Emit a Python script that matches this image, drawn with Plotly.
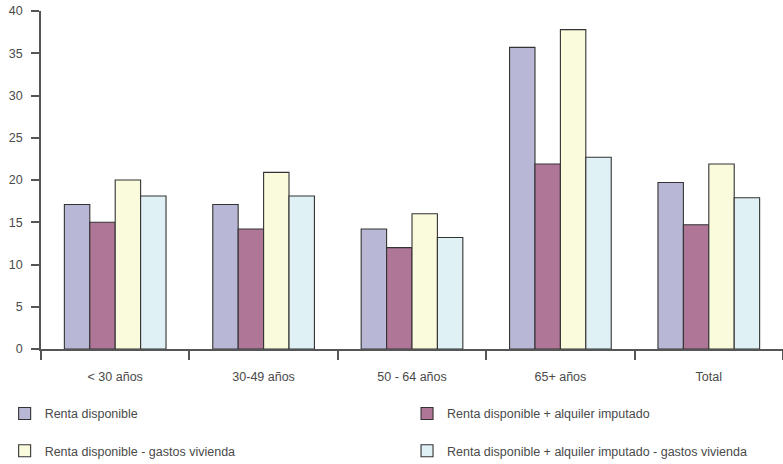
import plotly.graph_objects as go

categories = ["< 30 años", "30-49 años", "50 - 64 años", "65+ años", "Total"]
series_names = [
    "Renta disponible",
    "Renta disponible + alquiler imputado",
    "Renta disponible - gastos vivienda",
    "Renta disponible + alquiler imputado - gastos vivienda",
]
renta = [17.1, 17.1, 14.2, 35.7, 19.7]
renta_alquiler = [15.0, 14.2, 12.0, 21.9, 14.7]
renta_gastos = [20.0, 20.9, 16.0, 37.8, 21.9]
renta_alquiler_gastos = [18.1, 18.1, 13.2, 22.7, 17.9]
y_ticks = [0, 5, 10, 15, 20, 25, 30, 35, 40]

colors = ["#b8b8d6", "#b07698", "#fafadc", "#dff1f5"]
values = [renta, renta_alquiler, renta_gastos, renta_alquiler_gastos]
legend_ids = ["legend", "legend2", "legend3", "legend4"]
legend_pos = [(-0.049, -0.192), (0.4933, -0.192), (-0.049, -0.302), (0.4933, -0.302)]

FONT = "Liberation Sans, Arial, sans-serif"
TXT = "#4a4a4a"

fig = go.Figure()
for name, vals, col, lg in zip(series_names, values, colors, legend_ids):
    fig.add_trace(go.Bar(
        x=categories, y=vals, name=name,
        marker=dict(color=col, line=dict(color="#333333", width=1.1)),
        legend=lg,
    ))

legend_layout = {}
for lg, (lx, ly) in zip(legend_ids, legend_pos):
    legend_layout[lg] = dict(
        orientation="h", x=lx, xanchor="left", y=ly, yanchor="middle",
        font=dict(family=FONT, size=12.5, color=TXT),
        bgcolor="rgba(0,0,0,0)",
    )

fig.update_layout(
    width=783, height=464,
    margin=dict(l=41, r=0, t=11, b=115, autoexpand=False),
    paper_bgcolor="white", plot_bgcolor="white",
    barmode="group", bargap=0.315, bargroupgap=0,
    font=dict(family=FONT, size=12.5, color=TXT),
    showlegend=True,
    **legend_layout,
)
fig.update_xaxes(
    range=[-0.5, 4.5], showline=True, linecolor="#555555", linewidth=1.5,
    ticks="outside", tickson="boundaries", ticklen=9, tickcolor="#555555", tickwidth=1.5,
    showgrid=False, tickfont=dict(size=12.5, color=TXT), ticklabelstandoff=15,
)
fig.update_yaxes(
    range=[0, 40], tickvals=y_ticks, showline=True, linecolor="#555555", linewidth=1.5,
    ticks="outside", ticklen=8, tickcolor="#555555", tickwidth=1.5,
    showgrid=False, zeroline=False, tickfont=dict(size=12.5, color=TXT),
    ticklabelstandoff=6,
)
fig.write_html(
    "out.html",
    config={"displayModeBar": False},
    post_script="document.body.style.margin='0';document.body.style.overflow='hidden';",
)
